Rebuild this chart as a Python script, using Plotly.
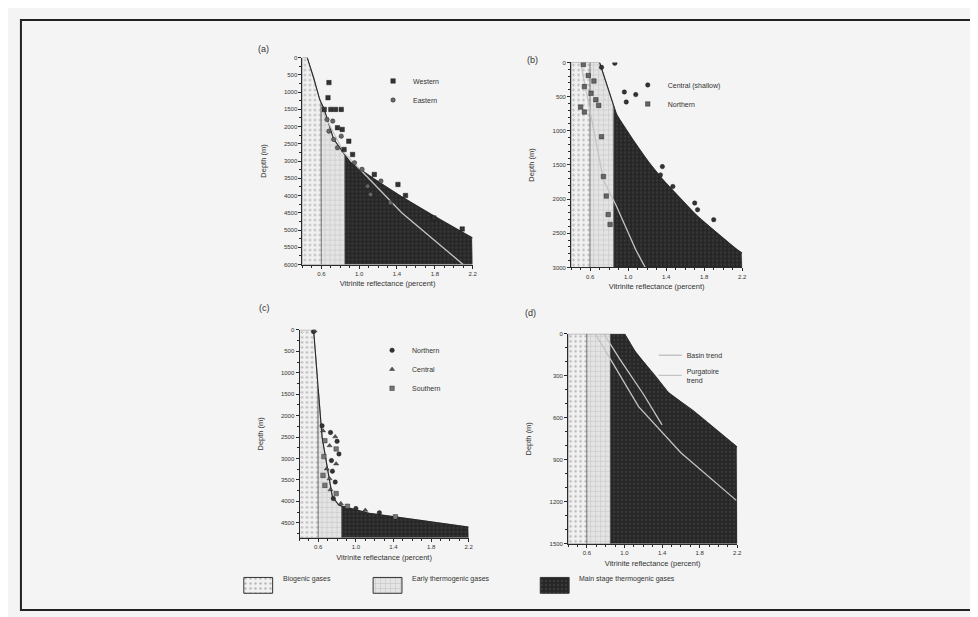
import numpy as np
import plotly.graph_objects as go

W, H = 978, 617
FONT = "Liberation Sans, Arial, sans-serif"
INK = "#2a2a2a"

# ---------------- data ----------------
RO_MIN, RO_MAX = 0.4, 2.2          # vitrinite reflectance axis (percent)
BIOGENIC_MAX = 0.6                 # biogenic / early thermogenic boundary
EARLY_MAX = 0.85                   # early / main-stage thermogenic boundary
x_tick0, x_dtick = 0.6, 0.4

# (a)
a_depth_max = 6000
a_env_ro = [0.45, 0.52, 0.58, 0.63, 0.73, 0.91, 1.16, 1.44, 1.79, 2.20]
a_env_depth = [0, 600, 1200, 1500, 2370, 3050, 3530, 4020, 4600, 5230]
a_trend_ro = [0.60, 0.84, 1.45, 2.10]
a_trend_depth = [1500, 2760, 4500, 6000]
a_west_ro = [0.68, 0.67, 0.63, 0.70, 0.75, 0.81, 0.77, 0.82, 0.89, 0.84, 0.93, 1.16, 1.41, 1.49, 1.79, 2.09]
a_west_depth = [727, 1163, 1503, 1503, 1503, 1503, 2035, 2084, 2424, 2666, 2811, 3390, 3680, 4000, 4650, 4970]
a_east_ro = [0.66, 0.72, 0.68, 0.81, 0.73, 0.77, 0.95, 1.03, 1.09, 1.12, 1.23, 1.33]
a_east_depth = [1794, 1843, 2134, 2279, 2375, 2616, 3050, 3240, 3730, 3970, 3580, 4210]

# (b)
b_depth_max = 3000
b_env_ro = [0.70, 0.88, 1.05, 1.22, 1.39, 1.73, 2.14, 2.20]
b_env_depth = [0, 770, 1135, 1470, 1760, 2255, 2735, 2790]
b_trend_ro = [0.50, 0.74, 0.88, 1.08, 1.18]
b_trend_depth = [0, 1720, 2110, 2740, 3000]
b_central_ro = [0.86, 0.96, 1.08, 0.98, 1.36, 1.34, 1.47, 1.70, 1.73, 1.90, 0.72]
b_central_depth = [10, 432, 470, 578, 1524, 1645, 1815, 2057, 2154, 2300, 70]
b_north_ro = [0.53, 0.58, 0.64, 0.54, 0.61, 0.66, 0.50, 0.54, 0.69, 0.72, 0.74, 0.77, 0.79, 0.81]
b_north_depth = [30, 190, 271, 353, 450, 546, 653, 726, 628, 1087, 1669, 1955, 2225, 2370]

# (c)
c_depth_max = 4850
c_env_ro = [0.55, 0.64, 0.75, 0.82, 1.14, 1.67, 2.20]
c_env_depth = [0, 2500, 3890, 4090, 4280, 4435, 4600]
c_north_ro = [0.55, 0.64, 0.73, 0.80, 0.82, 0.74, 0.75, 0.78, 0.76, 1.00, 1.25]
c_north_depth = [40, 2238, 2392, 2600, 2894, 3048, 3295, 3549, 3935, 4167, 4267]
c_central_ro = [0.56, 0.65, 0.78, 0.72, 0.79, 0.69, 0.72, 0.73, 0.84, 1.10]
c_central_depth = [20, 2353, 2492, 2700, 3125, 3241, 3472, 3727, 4051, 4205]
c_south_ro = [0.67, 0.79, 0.66, 0.65, 0.67, 0.79, 0.91, 1.42]
c_south_depth = [2585, 2778, 2955, 3395, 3627, 3819, 4113, 4360]

# (d)
d_depth_max = 1500
d_env_ro = [1.00, 1.12, 1.33, 1.47, 1.72, 1.94, 2.20]
d_env_depth = [0, 136, 304, 424, 543, 663, 810]
d_basin_ro = [0.69, 0.83, 1.15, 1.60, 2.19]
d_basin_depth = [0, 160, 520, 850, 1190]
d_purg_ro = [0.78, 0.95, 1.20, 1.40]
d_purg_depth = [0, 180, 430, 650]

zone_names = ["Biogenic gases", "Early thermogenic gases", "Main stage thermogenic gases"]

# ---------------- styles ----------------
ZONES = [
    dict(lo=RO_MIN, hi=BIOGENIC_MAX, bg="#f1f1f1",
         pat=dict(shape=".", fgcolor="#7d7d7d", bgcolor="#f1f1f1", size=5, solidity=0.18)),
    dict(lo=BIOGENIC_MAX, hi=EARLY_MAX, bg="#dedede",
         pat=dict(shape="+", fgcolor="#9b9b9b", bgcolor="#e4e4e4", size=5, solidity=0.18)),
    dict(lo=EARLY_MAX, hi=RO_MAX, bg="#262626",
         pat=dict(shape=".", fgcolor="#4c4c4c", bgcolor="#262626", size=4, solidity=0.3)),
]

# panel boxes in pixels (left, top, right, bottom)
BOX = {
    1: (296, 47, 467, 256),
    2: (566, 52, 738, 259),
    3: (293, 322, 463, 532),
    4: (563, 326, 733, 538),
}


def dom(i):
    l, t, r, b = BOX[i]
    return [l / W, r / W], [1 - b / H, 1 - t / H]


def band(env_ro, env_depth, lo, hi, zmax):
    # area left of the envelope curve, restricted to the reflectance band [lo, hi]
    z0 = 0.0 if env_ro[0] >= lo else float(np.interp(lo, env_ro, env_depth))
    extra = [d for d in env_depth if z0 <= d <= zmax]
    z = np.unique(np.concatenate([np.linspace(z0, zmax, 700), extra]))
    xr = np.clip(np.interp(z, env_depth, env_ro), lo, hi)
    xs = np.concatenate([np.full(len(z), lo), xr[::-1], [lo]])
    ys = np.concatenate([z, z[::-1], [z[0]]])
    return xs, ys


fig = go.Figure()


def add_panel(i, env_ro, env_depth, zmax, trends, series, legend_name):
    xa, ya = ("x", "y") if i == 1 else (f"x{i}", f"y{i}")
    for zd in ZONES:
        xs, ys = band(env_ro, env_depth, zd["lo"], zd["hi"], zmax)
        fig.add_trace(go.Scatter(x=xs, y=ys, mode="lines", fill="toself",
                                 fillcolor=zd["bg"], fillpattern=zd["pat"],
                                 line=dict(color="#555", width=0.6),
                                 hoverinfo="skip", showlegend=False, xaxis=xa, yaxis=ya))
    # envelope line
    fig.add_trace(go.Scatter(x=env_ro, y=env_depth, mode="lines",
                             line=dict(color=INK, width=1.1), showlegend=False,
                             hoverinfo="skip", xaxis=xa, yaxis=ya))
    for name, tr_ro, tr_d, show in trends:
        fig.add_trace(go.Scatter(x=tr_ro, y=tr_d, mode="lines", name=name,
                                 line=dict(color="#c4c4c4", width=1.3),
                                 showlegend=show, legend=legend_name,
                                 xaxis=xa, yaxis=ya))
    for name, ro, d, sym, col in series:
        fig.add_trace(go.Scatter(x=ro, y=d, mode="markers", name=name,
                                 marker=dict(symbol=sym, size=4.5, color=col,
                                             line=dict(width=0.4, color="#111")),
                                 legend=legend_name, xaxis=xa, yaxis=ya))


add_panel(1, a_env_ro, a_env_depth, a_depth_max,
          [("trend", a_trend_ro, a_trend_depth, False)],
          [("Western", a_west_ro, a_west_depth, "square", "#333"),
           ("Eastern", a_east_ro, a_east_depth, "circle", "#666")], "legend")
add_panel(2, b_env_ro, b_env_depth, b_depth_max,
          [("trend", b_trend_ro, b_trend_depth, False)],
          [("Central (shallow)", b_central_ro, b_central_depth, "circle", "#333"),
           ("Northern", b_north_ro, b_north_depth, "square", "#666")], "legend2")
add_panel(3, c_env_ro, c_env_depth, c_depth_max, [],
          [("Northern", c_north_ro, c_north_depth, "circle", "#333"),
           ("Central", c_central_ro, c_central_depth, "triangle-up", "#555"),
           ("Southern", c_south_ro, c_south_depth, "square", "#777")], "legend3")
add_panel(4, d_env_ro, d_env_depth, d_depth_max,
          [("Basin trend", d_basin_ro, d_basin_depth, True),
           ("Purgatoire<br>trend", d_purg_ro, d_purg_depth, True)],
          [], "legend4")

# bottom zone key on a hidden pixel-scaled axis
KEY_X = [237, 367, 535]
KEY_Y, KEY_W, KEY_H = 572, 29, 16
for k, zd in enumerate(ZONES):
    x0 = KEY_X[k]
    fig.add_trace(go.Scatter(x=[x0, x0 + KEY_W, x0 + KEY_W, x0, x0],
                             y=[KEY_Y, KEY_Y, KEY_Y + KEY_H, KEY_Y + KEY_H, KEY_Y],
                             mode="lines", fill="toself", fillcolor=zd["bg"],
                             fillpattern=zd["pat"], line=dict(color="#333", width=1),
                             showlegend=False, hoverinfo="skip", xaxis="x5", yaxis="y5"))

# ---------------- axes ----------------
tick_font = dict(size=6, color="#333", family=FONT)
title_font = dict(size=7.5, color="#333", family=FONT)
ydt = {1: 500, 2: 500, 3: 500, 4: 300}
yminor = {1: 250, 2: 100, 3: 250, 4: 100}
zmaxes = {1: a_depth_max, 2: b_depth_max, 3: c_depth_max, 4: d_depth_max}
layout_axes = {}
for i in range(1, 5):
    xd, yd = dom(i)
    sx = "" if i == 1 else str(i)
    layout_axes[f"xaxis{sx}"] = dict(
        domain=xd, anchor=f"y{sx}", range=[RO_MIN, RO_MAX],
        tickmode="linear", tick0=x_tick0, dtick=x_dtick, tickformat=".1f",
        showline=True, linecolor=INK, linewidth=1, ticks="outside", ticklen=3,
        tickcolor=INK, showgrid=False, zeroline=False, tickfont=tick_font,
        minor=dict(ticks="outside", ticklen=2, tickmode="linear", tick0=0.4, dtick=0.1,
                   tickcolor=INK, showgrid=False),
        title=dict(text="Vitrinite reflectance (percent)", font=title_font, standoff=5))
    layout_axes[f"yaxis{sx}"] = dict(
        domain=yd, anchor=f"x{sx}", range=[zmaxes[i], 0],
        tickmode="linear", tick0=0, dtick=ydt[i],
        showline=True, linecolor=INK, linewidth=1, ticks="outside", ticklen=3,
        tickcolor=INK, showgrid=False, zeroline=False, tickfont=tick_font,
        minor=dict(ticks="outside", ticklen=2, tickmode="linear", tick0=0, dtick=yminor[i],
                   tickcolor=INK, showgrid=False),
        title=dict(text="Depth (m)", font=title_font, standoff=16))
layout_axes["xaxis5"] = dict(domain=[0, 1], anchor="y5", range=[0, W], visible=False, fixedrange=True)
layout_axes["yaxis5"] = dict(domain=[0, 1], anchor="x5", range=[H, 0], visible=False, fixedrange=True)


def leg(x_px, y_px):
    return dict(x=x_px / W, y=1 - y_px / H, xanchor="left", yanchor="top",
                bgcolor="rgba(0,0,0,0)", borderwidth=0, tracegroupgap=0,
                itemwidth=30, indentation=-12,
                font=dict(size=7, color="#333", family=FONT))


annotations = []
for txt, xp, yp in [("(a)", 249, 31), ("(b)", 527, 42), ("(c)", 250, 300), ("(d)", 525, 305)]:
    annotations.append(dict(text=txt, x=xp / W, y=1 - yp / H, xref="paper", yref="paper",
                            showarrow=False, font=dict(size=9, color="#333", family=FONT)))
for k, name in enumerate(zone_names):
    annotations.append(dict(text=name, x=(KEY_X[k] + KEY_W + 8) / W, y=1 - (KEY_Y + KEY_H / 2) / H,
                            xref="paper", yref="paper", xanchor="left", showarrow=False,
                            font=dict(size=7, color="#333", family=FONT)))

fig.update_layout(
    width=W, height=H, margin=dict(l=0, r=0, t=0, b=0),
    paper_bgcolor="#f4f4f4", plot_bgcolor="rgba(0,0,0,0)",
    font=dict(family=FONT, color="#333"),
    legend=leg(379, 56), legend2=leg(635, 60), legend3=leg(378, 328), legend4=leg(654, 333),
    annotations=annotations,
    shapes=[dict(type="rect", xref="paper", yref="paper",
                 x0=13 / W, x1=975 / W, y0=1 - 605 / H, y1=1 - 9 / H,
                 line=dict(color="#222", width=2))],
    **layout_axes,
)

fig.write_html("out.html")
